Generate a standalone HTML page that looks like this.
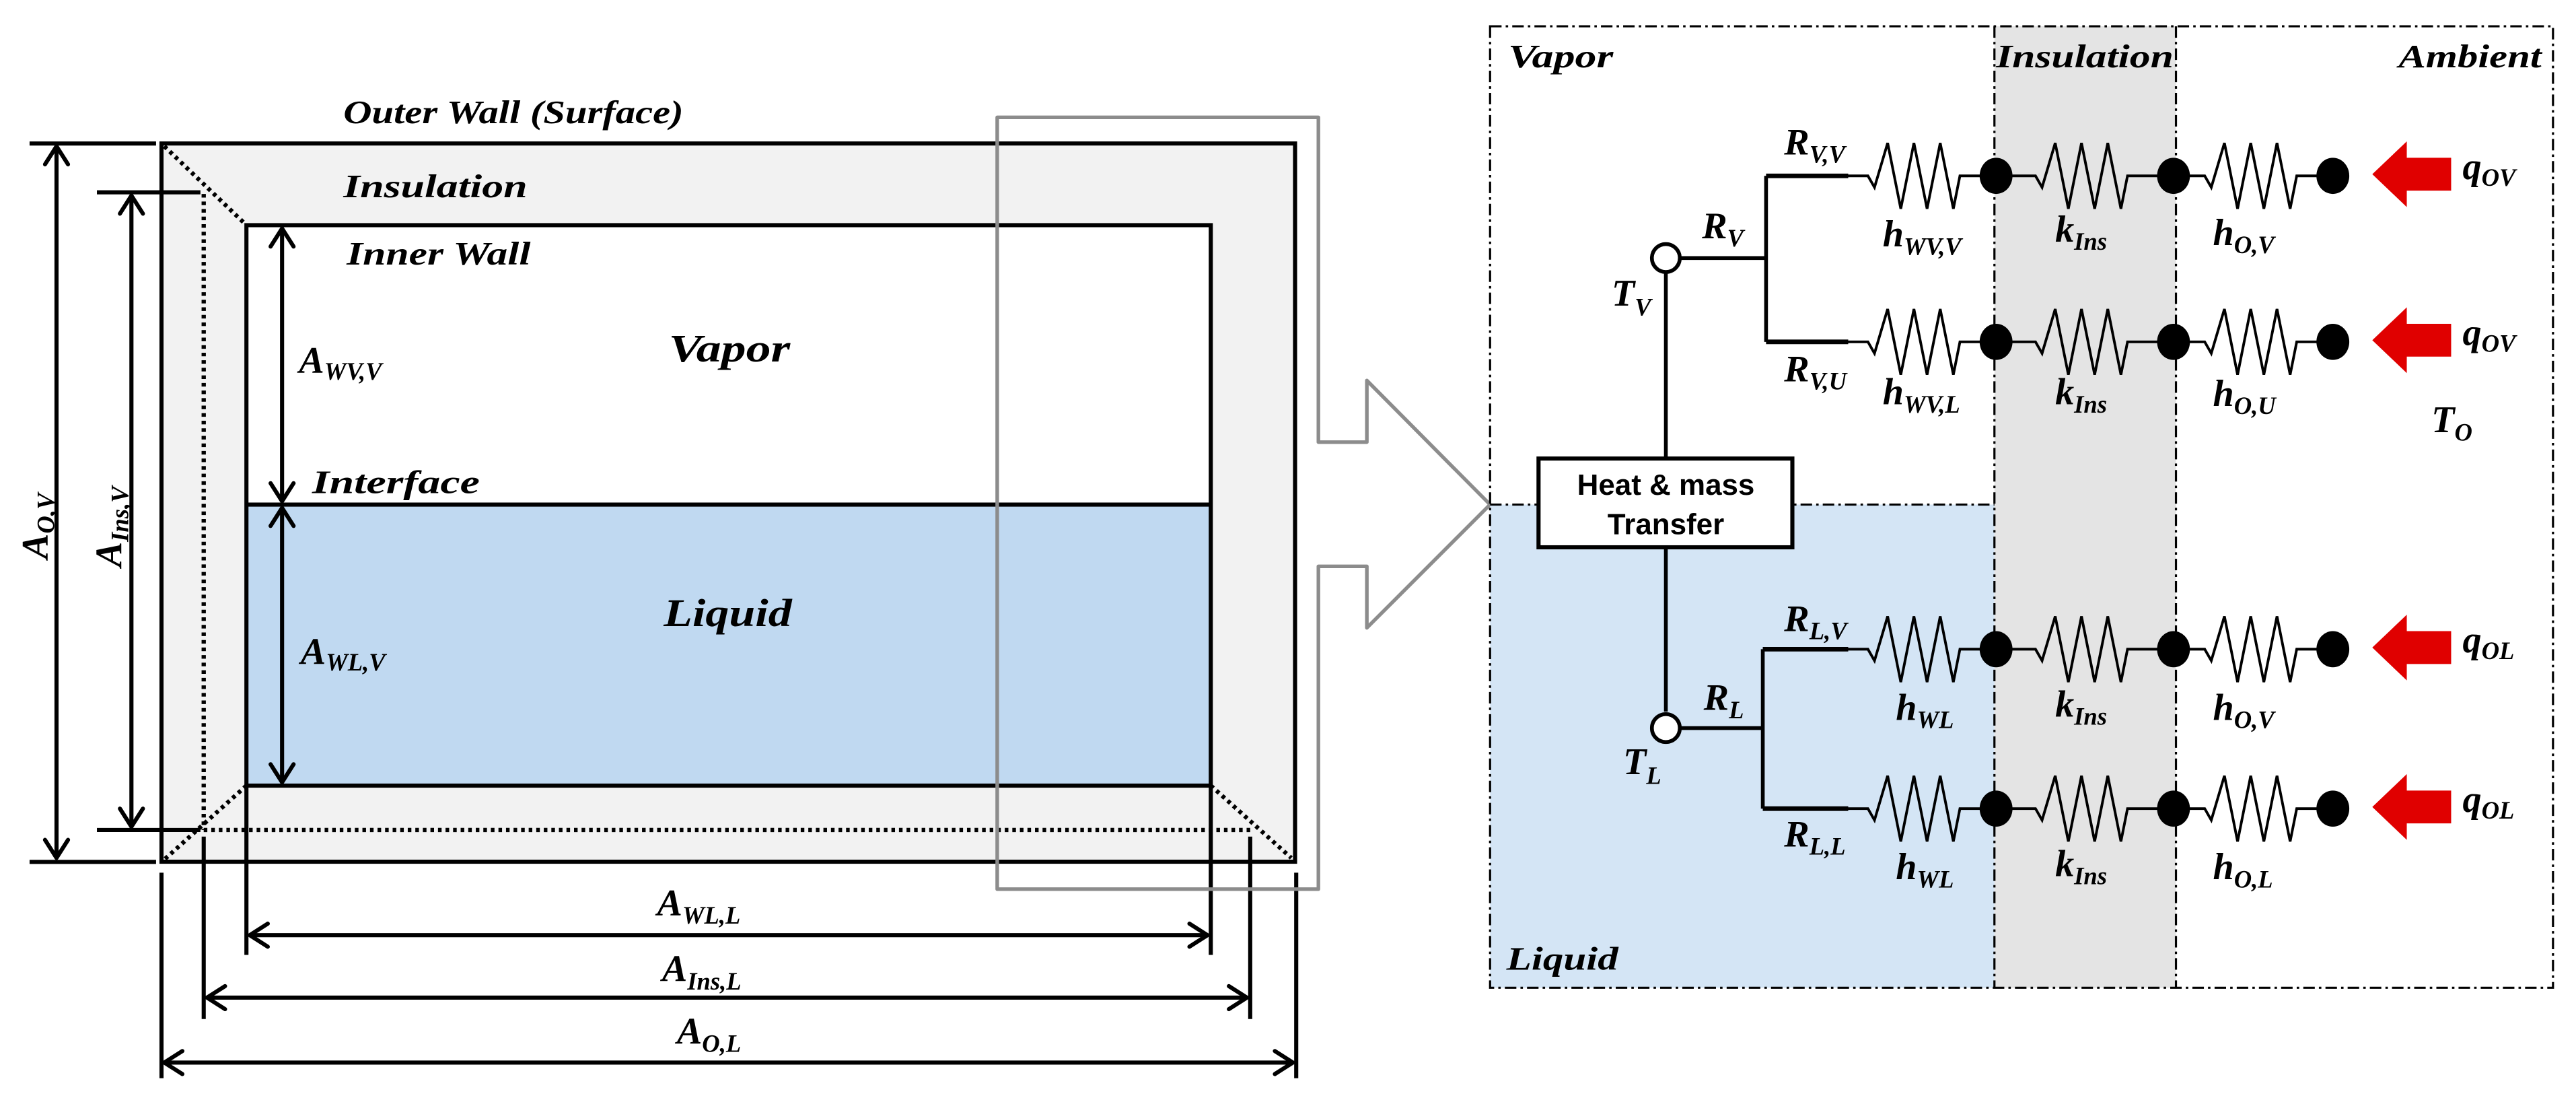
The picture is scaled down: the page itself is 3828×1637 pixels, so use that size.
<!DOCTYPE html>
<html><head><meta charset="utf-8"><style>
html,body{margin:0;padding:0;background:#fff;}
svg{display:block;}
text{font-family:"Liberation Serif",serif;font-weight:bold;font-style:italic;fill:#000;}
.ar{font-family:"Liberation Sans",Arial,sans-serif;font-style:normal;font-weight:bold;}
</style></head><body>
<svg width="3828" height="1637" viewBox="0 0 1568 670.5" preserveAspectRatio="none" xmlns="http://www.w3.org/2000/svg">
<defs>
<marker id="ah" markerUnits="userSpaceOnUse" viewBox="-14 -9 16 18" refX="0" refY="0" markerWidth="16" markerHeight="18" orient="auto-start-reverse">
<path d="M-11,-7 L0,0 L-11,7" fill="none" stroke="#000" stroke-width="2.5" stroke-linecap="round" stroke-linejoin="round"/>
</marker>
</defs>

<!-- LEFT DIAGRAM -->
<rect x="98.3" y="87.3" width="690" height="437" fill="#f2f2f2" stroke="#000" stroke-width="2.5"/>
<rect x="150" y="137" width="587" height="170" fill="#fff"/>
<rect x="150" y="307" width="587" height="171" fill="#c0d9f1"/>
<rect x="150" y="137" width="587" height="341" fill="none" stroke="#000" stroke-width="2.5"/>
<line x1="150" y1="307" x2="737" y2="307" stroke="#000" stroke-width="2.5"/>
<g stroke="#000" stroke-width="2.6" stroke-dasharray="2.2 2.4" fill="none">
<line x1="100" y1="89" x2="150" y2="137"/>
<line x1="124" y1="118" x2="124" y2="505"/>
<line x1="124" y1="505" x2="761" y2="505"/>
<line x1="150" y1="478" x2="100" y2="523"/>
<line x1="737" y1="478" x2="786" y2="522"/>
</g>
<g stroke="#000" stroke-width="2.5">
<line x1="18" y1="87.3" x2="95" y2="87.3"/>
<line x1="18" y1="524.4" x2="95" y2="524.4"/>
<line x1="59" y1="117" x2="122" y2="117"/>
<line x1="59" y1="505" x2="122" y2="505"/>
<line x1="34.4" y1="89" x2="34.4" y2="522" marker-start="url(#ah)" marker-end="url(#ah)"/>
<line x1="80" y1="119" x2="80" y2="503" marker-start="url(#ah)" marker-end="url(#ah)"/>
<line x1="171.7" y1="139" x2="171.7" y2="305" marker-start="url(#ah)" marker-end="url(#ah)"/>
<line x1="171.7" y1="309" x2="171.7" y2="476" marker-start="url(#ah)" marker-end="url(#ah)"/>
<line x1="150" y1="478" x2="150" y2="581"/>
<line x1="737" y1="478" x2="737" y2="581"/>
<line x1="124" y1="509" x2="124" y2="620"/>
<line x1="761" y1="509" x2="761" y2="620"/>
<line x1="98.3" y1="531" x2="98.3" y2="656"/>
<line x1="789" y1="531" x2="789" y2="656"/>
<line x1="152" y1="569" x2="735" y2="569" marker-start="url(#ah)" marker-end="url(#ah)"/>
<line x1="126" y1="607" x2="759" y2="607" marker-start="url(#ah)" marker-end="url(#ah)"/>
<line x1="100" y1="646.5" x2="787" y2="646.5" marker-start="url(#ah)" marker-end="url(#ah)"/>
</g>
<text x="209" y="75" font-size="20" textLength="207" lengthAdjust="spacingAndGlyphs">Outer Wall (Surface)</text>
<text x="209" y="120" font-size="20" textLength="112" lengthAdjust="spacingAndGlyphs">Insulation</text>
<text x="211" y="161" font-size="20" textLength="112" lengthAdjust="spacingAndGlyphs">Inner Wall</text>
<text x="407" y="220" font-size="24" textLength="74" lengthAdjust="spacingAndGlyphs">Vapor</text>
<text x="190" y="300" font-size="20" textLength="102" lengthAdjust="spacingAndGlyphs">Interface</text>
<text x="404" y="381" font-size="24" textLength="78" lengthAdjust="spacingAndGlyphs">Liquid</text>
<text x="182" y="227" font-size="23">A<tspan font-size="15" dy="4">WV,V</tspan></text>
<text x="183" y="404" font-size="23">A<tspan font-size="15" dy="4">WL,V</tspan></text>
<text x="400" y="557" font-size="23">A<tspan font-size="15" dy="5">WL,L</tspan></text>
<text x="403" y="597" font-size="23">A<tspan font-size="15" dy="5">Ins,L</tspan></text>
<text x="412" y="635" font-size="23">A<tspan font-size="15" dy="5">O,L</tspan></text>
<text transform="translate(29,340) rotate(-90)" font-size="23">A<tspan font-size="15" dy="4">O,V</tspan></text>
<text transform="translate(74,345) rotate(-90)" font-size="23">A<tspan font-size="15" dy="4">Ins,V</tspan></text>

<path d="M607,71.4 H802.5 V269 H832 V231.5 L907,307 L832,382 V344.6 H802.5 V541 H607 Z" fill="none" stroke="#8c8c8c" stroke-width="2.2" stroke-linejoin="round"/>

<!-- RIGHT DIAGRAM -->
<rect x="907" y="307" width="307" height="294" fill="#d4e5f5"/>
<rect x="1214" y="16" width="110.5" height="585" fill="#e4e4e4"/>
<g stroke="#000" stroke-width="1.3" stroke-dasharray="7 2.5 1.5 2.5" fill="none">
<rect x="907" y="16" width="647" height="585"/>
<line x1="1214" y1="16" x2="1214" y2="601"/>
<line x1="1324.5" y1="16" x2="1324.5" y2="601"/>
<line x1="907" y1="307" x2="1214" y2="307"/>
</g>
<text x="918" y="41" font-size="20" textLength="64" lengthAdjust="spacingAndGlyphs">Vapor</text>
<text x="1215" y="41" font-size="20" textLength="108" lengthAdjust="spacingAndGlyphs">Insulation</text>
<text x="1460" y="41" font-size="20" textLength="87" lengthAdjust="spacingAndGlyphs">Ambient</text>
<text x="917" y="590" font-size="20" textLength="68" lengthAdjust="spacingAndGlyphs">Liquid</text>

<rect x="936.5" y="279" width="154.5" height="54" fill="#fff" stroke="#000" stroke-width="2.5"/>
<text class="ar" x="1014" y="301" font-size="18" text-anchor="middle">Heat &amp; mass</text>
<text class="ar" x="1014" y="325" font-size="18" text-anchor="middle">Transfer</text>

<g stroke="#000" stroke-width="2.3" fill="none">
<line x1="1014" y1="166" x2="1014" y2="279"/>
<line x1="1014" y1="333" x2="1014" y2="433"/>
<line x1="1023" y1="157" x2="1075" y2="157"/>
<line x1="1075" y1="107" x2="1075" y2="208"/>
<line x1="1075" y1="107" x2="1125" y2="107" stroke-width="2.8"/>
<line x1="1075" y1="208" x2="1125" y2="208" stroke-width="2.8"/>
<line x1="1023" y1="443" x2="1073" y2="443"/>
<line x1="1073" y1="395" x2="1073" y2="492"/>
<line x1="1073" y1="395" x2="1125" y2="395" stroke-width="2.8"/>
<line x1="1073" y1="492" x2="1125" y2="492" stroke-width="2.8"/>
</g>
<circle cx="1014" cy="157" r="8.5" fill="#fff" stroke="#000" stroke-width="2.3"/>
<circle cx="1014" cy="443" r="8.5" fill="#fff" stroke="#000" stroke-width="2.3"/>

<g stroke="#000" stroke-width="1.6" fill="none">
<path d="M1125,107 h12 l4,7 l8,-27 l8,40 l8,-40 l8,40 l8,-40 l8,40 l4,-20 H1215"/>
<path d="M1215,107 h24 l4,7 l8,-27 l8,40 l8,-40 l8,40 l8,-40 l8,40 l4,-20 H1323"/>
<path d="M1323,107 h19 l4,7 l8,-27 l8,40 l8,-40 l8,40 l8,-40 l8,40 l4,-20 H1420"/>
<path d="M1125,208 h12 l4,7 l8,-27 l8,40 l8,-40 l8,40 l8,-40 l8,40 l4,-20 H1215"/>
<path d="M1215,208 h24 l4,7 l8,-27 l8,40 l8,-40 l8,40 l8,-40 l8,40 l4,-20 H1323"/>
<path d="M1323,208 h19 l4,7 l8,-27 l8,40 l8,-40 l8,40 l8,-40 l8,40 l4,-20 H1420"/>
<path d="M1125,395 h12 l4,7 l8,-27 l8,40 l8,-40 l8,40 l8,-40 l8,40 l4,-20 H1215"/>
<path d="M1215,395 h24 l4,7 l8,-27 l8,40 l8,-40 l8,40 l8,-40 l8,40 l4,-20 H1323"/>
<path d="M1323,395 h19 l4,7 l8,-27 l8,40 l8,-40 l8,40 l8,-40 l8,40 l4,-20 H1420"/>
<path d="M1125,492 h12 l4,7 l8,-27 l8,40 l8,-40 l8,40 l8,-40 l8,40 l4,-20 H1215"/>
<path d="M1215,492 h24 l4,7 l8,-27 l8,40 l8,-40 l8,40 l8,-40 l8,40 l4,-20 H1323"/>
<path d="M1323,492 h19 l4,7 l8,-27 l8,40 l8,-40 l8,40 l8,-40 l8,40 l4,-20 H1420"/>
</g>
<g fill="#000">
<ellipse cx="1215" cy="107" rx="10" ry="11"/><ellipse cx="1323" cy="107" rx="10" ry="11"/><ellipse cx="1420" cy="107" rx="10" ry="11"/>
<ellipse cx="1215" cy="208" rx="10" ry="11"/><ellipse cx="1323" cy="208" rx="10" ry="11"/><ellipse cx="1420" cy="208" rx="10" ry="11"/>
<ellipse cx="1215" cy="395" rx="10" ry="11"/><ellipse cx="1323" cy="395" rx="10" ry="11"/><ellipse cx="1420" cy="395" rx="10" ry="11"/>
<ellipse cx="1215" cy="492" rx="10" ry="11"/><ellipse cx="1323" cy="492" rx="10" ry="11"/><ellipse cx="1420" cy="492" rx="10" ry="11"/>
</g>
<g fill="#e00000">
<path d="M1444,106 L1465,86 V96 H1492 V116 H1465 V126 Z"/>
<path d="M1444,207 L1465,187 V197 H1492 V217 H1465 V227 Z"/>
<path d="M1444,394 L1465,374 V384 H1492 V404 H1465 V414 Z"/>
<path d="M1444,491 L1465,471 V481 H1492 V501 H1465 V511 Z"/>
</g>

<g font-size="23">
<text x="1086" y="94">R<tspan font-size="15" dy="5">V,V</tspan></text>
<text x="1036" y="145">R<tspan font-size="15" dy="5">V</tspan></text>
<text x="981" y="186">T<tspan font-size="15" dy="6">V</tspan></text>
<text x="1086" y="232">R<tspan font-size="15" dy="5">V,U</tspan></text>
<text x="1146" y="150">h<tspan font-size="15" dy="5">WV,V</tspan></text>
<text x="1146" y="246">h<tspan font-size="15" dy="5">WV,L</tspan></text>
<text x="1251" y="147">k<tspan font-size="15" dy="5">Ins</tspan></text>
<text x="1251" y="246">k<tspan font-size="15" dy="5">Ins</tspan></text>
<text x="1347" y="149">h<tspan font-size="15" dy="5">O,V</tspan></text>
<text x="1347" y="247">h<tspan font-size="15" dy="5">O,U</tspan></text>
<text x="1086" y="384">R<tspan font-size="15" dy="5">L,V</tspan></text>
<text x="1037" y="432">R<tspan font-size="15" dy="5">L</tspan></text>
<text x="988" y="471">T<tspan font-size="15" dy="6">L</tspan></text>
<text x="1086" y="515">R<tspan font-size="15" dy="5">L,L</tspan></text>
<text x="1154" y="438">h<tspan font-size="15" dy="5">WL</tspan></text>
<text x="1154" y="535">h<tspan font-size="15" dy="5">WL</tspan></text>
<text x="1251" y="436">k<tspan font-size="15" dy="5">Ins</tspan></text>
<text x="1251" y="533">k<tspan font-size="15" dy="5">Ins</tspan></text>
<text x="1347" y="438">h<tspan font-size="15" dy="5">O,V</tspan></text>
<text x="1347" y="535">h<tspan font-size="15" dy="5">O,L</tspan></text>
<text x="1499" y="109">q<tspan font-size="15" dy="4">OV</tspan></text>
<text x="1499" y="210">q<tspan font-size="15" dy="4">OV</tspan></text>
<text x="1499" y="397">q<tspan font-size="15" dy="4">OL</tspan></text>
<text x="1499" y="494">q<tspan font-size="15" dy="4">OL</tspan></text>
<text x="1480" y="263">T<tspan font-size="15" dy="5">O</tspan></text>
</g>
</svg>
</body></html>
